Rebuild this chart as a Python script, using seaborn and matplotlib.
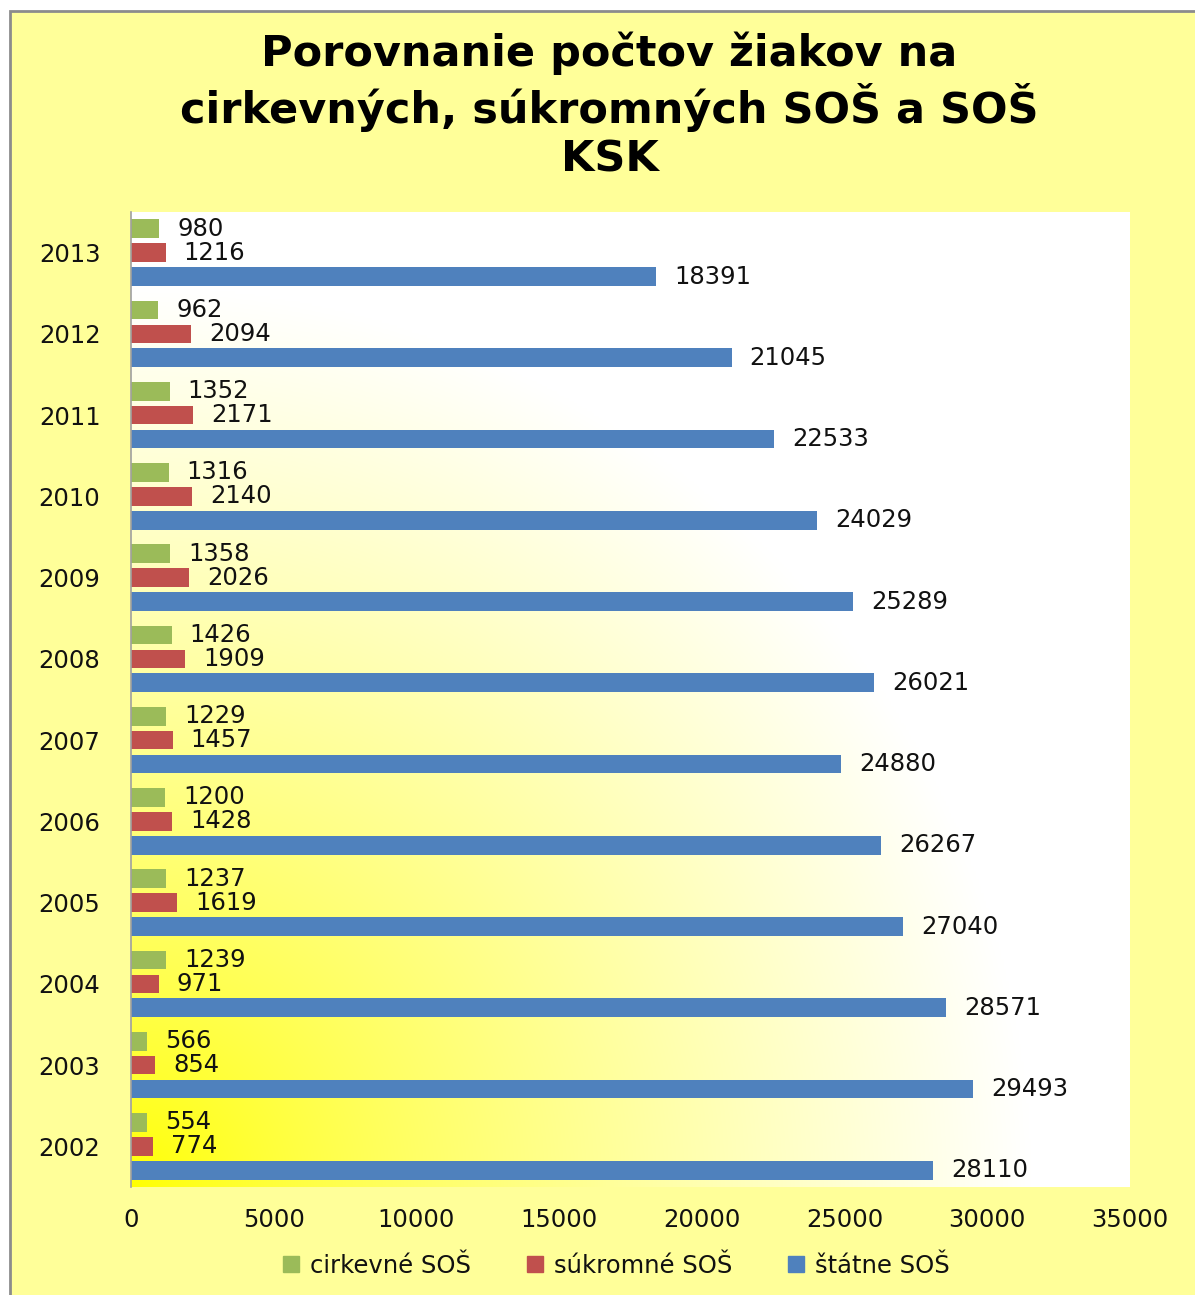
import matplotlib
matplotlib.use("Agg")
import matplotlib.pyplot as plt
from matplotlib.lines import Line2D
from matplotlib.patches import Rectangle
import numpy as np
import pandas as pd
import seaborn as sns

years = ["2013", "2012", "2011", "2010", "2009", "2008",
         "2007", "2006", "2005", "2004", "2003", "2002"]
cirkevne = [980, 962, 1352, 1316, 1358, 1426, 1229, 1200, 1237, 1239, 566, 554]
sukromne = [1216, 2094, 2171, 2140, 2026, 1909, 1457, 1428, 1619, 971, 854, 774]
statne = [18391, 21045, 22533, 24029, 25289, 26021, 24880, 26267, 27040, 28571, 29493, 28110]
series = ["cirkevné SOŠ", "súkromné SOŠ", "štátne SOŠ"]
colors = ["#9BBB59", "#C0504D", "#4F81BD"]
x_ticks = [0, 5000, 10000, 15000, 20000, 25000, 30000, 35000]

df = pd.DataFrame({
    "rok": years * 3,
    "typ": [series[0]] * 12 + [series[1]] * 12 + [series[2]] * 12,
    "pocet": cirkevne + sukromne + statne,
})

sns.set_theme(style="white")
plt.rcParams["font.family"] = ["DejaVu Sans"]

fig = plt.figure(figsize=(11.95, 12.95), dpi=100, facecolor="white")
fig.patches.append(Rectangle((10 / 1195, -0.1), 1.2, 1.1 - 11 / 1295,
                             transform=fig.transFigure, facecolor="#FFFF99",
                             edgecolor="#8C8C8C", linewidth=2, zorder=-10))

ax = fig.add_axes([131 / 1195, 1 - 1187 / 1295, 999 / 1195, 975 / 1295])

# radial gradient yellow (bottom-left) -> white
gx, gy = np.meshgrid(np.linspace(0, 1, 400), np.linspace(0, 1, 400))
d = np.sqrt((gx * 999) ** 2 + ((1 - gy) * 975) ** 2) / 900
t = np.clip(d, 0, 1) ** 0.8
img = np.zeros((400, 400, 3))
img[..., 0] = 1.0
img[..., 1] = 1.0
img[..., 2] = t
ax.imshow(img, extent=(0, 1, 0, 1), transform=ax.transAxes, aspect="auto",
          zorder=0, origin="upper")

sns.barplot(data=df, x="pocet", y="rok", hue="typ", orient="h",
            order=years, hue_order=series, palette=colors, saturation=1,
            width=0.885, gap=0.22, legend=False, ax=ax, zorder=2,
            linewidth=0, edgecolor="none")

for cont in ax.containers:
    ax.bar_label(cont, padding=13, fontsize=17.5, color="#111111")

ax.set_xlim(0, 35000)
ax.set_ylim(11.5, -0.5)
ax.set_xticks(x_ticks)
ax.set_xticklabels([str(v) for v in x_ticks])
ax.set_xlabel("")
ax.set_ylabel("")
ax.tick_params(axis="x", length=0, pad=15, labelsize=17.5, labelcolor="#111111")
ax.tick_params(axis="y", length=0, pad=22, labelsize=17.5, labelcolor="#111111")
for s in ["top", "right", "bottom"]:
    ax.spines[s].set_visible(False)
ax.spines["left"].set_color("#A0A0A0")
ax.spines["left"].set_linewidth(1.2)
ax.spines["left"].set_zorder(3)

fig.text(0.51, 1 - 106 / 1295,
         "Porovnanie počtov žiakov na\ncirkevných, súkromných SOŠ a SOŠ\nKSK",
         ha="center", va="center", fontsize=31, fontweight="bold",
         linespacing=1.2, color="black")

handles = [Line2D([], [], marker="s", linestyle="", markersize=11,
                  markerfacecolor=c, markeredgecolor=c) for c in colors]
fig.legend(handles, series, loc="center", bbox_to_anchor=(0.515, 1 - 1266 / 1295),
           ncol=3, frameon=False, fontsize=17.5, handlelength=0.8,
           handletextpad=0.4, columnspacing=2.2, labelcolor="#111111")

fig.savefig("out.png", dpi=100, facecolor=fig.get_facecolor())
